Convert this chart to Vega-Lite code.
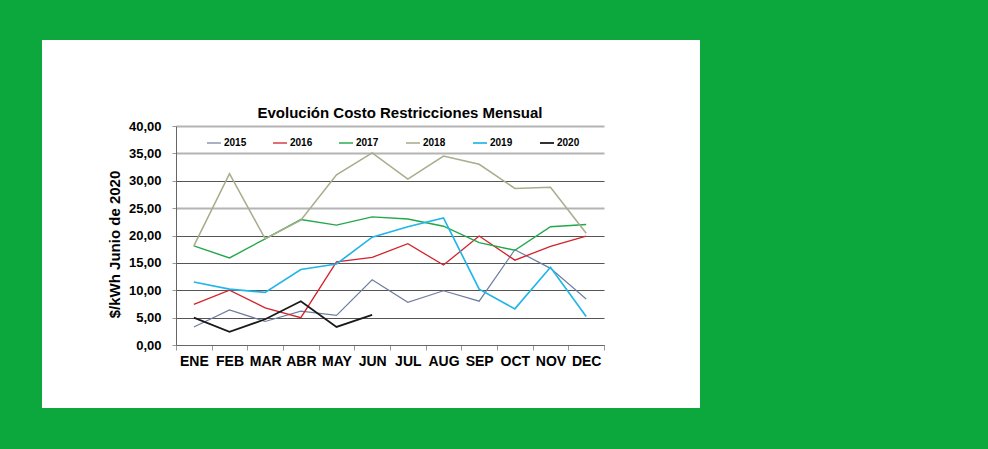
{
  "$schema": "https://vega.github.io/schema/vega-lite/v6.json",
  "autosize": "none",
  "width": 658,
  "height": 368,
  "padding": {"left": 42, "top": 40, "right": 288, "bottom": 41},
  "background": "#0ca73d",
  "config": {
    "view": {"fill": "white", "stroke": null},
    "font": "Liberation Sans"
  },
  "title": {
    "text": "Evolución Costo Restricciones Mensual",
    "font": "Liberation Sans",
    "fontSize": 15,
    "fontWeight": "bold",
    "color": "#000000",
    "anchor": "middle",
    "frame": "group",
    "offset": 0,
    "baseline": "middle",
    "dx": 29,
    "dy": 88
  },
  "data": {
    "values": [
      {"month": "ENE", "year": "2015", "value": 3.3},
      {"month": "FEB", "year": "2015", "value": 6.4},
      {"month": "MAR", "year": "2015", "value": 4.3},
      {"month": "ABR", "year": "2015", "value": 6.2},
      {"month": "MAY", "year": "2015", "value": 5.4},
      {"month": "JUN", "year": "2015", "value": 11.9},
      {"month": "JUL", "year": "2015", "value": 7.8},
      {"month": "AUG", "year": "2015", "value": 9.9},
      {"month": "SEP", "year": "2015", "value": 8.0},
      {"month": "OCT", "year": "2015", "value": 17.4},
      {"month": "NOV", "year": "2015", "value": 14.0},
      {"month": "DEC", "year": "2015", "value": 8.4},
      {"month": "ENE", "year": "2016", "value": 7.4},
      {"month": "FEB", "year": "2016", "value": 10.0},
      {"month": "MAR", "year": "2016", "value": 6.8},
      {"month": "ABR", "year": "2016", "value": 5.0},
      {"month": "MAY", "year": "2016", "value": 15.2},
      {"month": "JUN", "year": "2016", "value": 16.0},
      {"month": "JUL", "year": "2016", "value": 18.5},
      {"month": "AUG", "year": "2016", "value": 14.6},
      {"month": "SEP", "year": "2016", "value": 19.9},
      {"month": "OCT", "year": "2016", "value": 15.5},
      {"month": "NOV", "year": "2016", "value": 18.0},
      {"month": "DEC", "year": "2016", "value": 19.9},
      {"month": "ENE", "year": "2017", "value": 18.1},
      {"month": "FEB", "year": "2017", "value": 15.9},
      {"month": "MAR", "year": "2017", "value": 19.4},
      {"month": "ABR", "year": "2017", "value": 22.9},
      {"month": "MAY", "year": "2017", "value": 21.9},
      {"month": "JUN", "year": "2017", "value": 23.4},
      {"month": "JUL", "year": "2017", "value": 23.0},
      {"month": "AUG", "year": "2017", "value": 21.7},
      {"month": "SEP", "year": "2017", "value": 18.7},
      {"month": "OCT", "year": "2017", "value": 17.3},
      {"month": "NOV", "year": "2017", "value": 21.6},
      {"month": "DEC", "year": "2017", "value": 22.0},
      {"month": "ENE", "year": "2018", "value": 18.1},
      {"month": "FEB", "year": "2018", "value": 31.3},
      {"month": "MAR", "year": "2018", "value": 19.4},
      {"month": "ABR", "year": "2018", "value": 22.8},
      {"month": "MAY", "year": "2018", "value": 31.1},
      {"month": "JUN", "year": "2018", "value": 35.1},
      {"month": "JUL", "year": "2018", "value": 30.3},
      {"month": "AUG", "year": "2018", "value": 34.5},
      {"month": "SEP", "year": "2018", "value": 33.0},
      {"month": "OCT", "year": "2018", "value": 28.6},
      {"month": "NOV", "year": "2018", "value": 28.8},
      {"month": "DEC", "year": "2018", "value": 20.4},
      {"month": "ENE", "year": "2019", "value": 11.5},
      {"month": "FEB", "year": "2019", "value": 10.2},
      {"month": "MAR", "year": "2019", "value": 9.6},
      {"month": "ABR", "year": "2019", "value": 13.8},
      {"month": "MAY", "year": "2019", "value": 14.8},
      {"month": "JUN", "year": "2019", "value": 19.7},
      {"month": "JUL", "year": "2019", "value": 21.6},
      {"month": "AUG", "year": "2019", "value": 23.2},
      {"month": "SEP", "year": "2019", "value": 10.2},
      {"month": "OCT", "year": "2019", "value": 6.6},
      {"month": "NOV", "year": "2019", "value": 14.2},
      {"month": "DEC", "year": "2019", "value": 5.2},
      {"month": "ENE", "year": "2020", "value": 5.0},
      {"month": "FEB", "year": "2020", "value": 2.4},
      {"month": "MAR", "year": "2020", "value": 4.7},
      {"month": "ABR", "year": "2020", "value": 8.0},
      {"month": "MAY", "year": "2020", "value": 3.3},
      {"month": "JUN", "year": "2020", "value": 5.5}
    ]
  },
  "mark": {"type": "line", "strokeJoin": "miter"},
  "encoding": {
    "x": {
      "field": "month",
      "type": "ordinal",
      "sort": ["ENE", "FEB", "MAR", "ABR", "MAY", "JUN", "JUL", "AUG", "SEP", "OCT", "NOV", "DEC"],
      "bandPosition": 0.5,
      "scale": {"type": "band", "range": [134, 562], "paddingInner": 0, "paddingOuter": 0},
      "axis": {
        "title": null,
        "orient": "bottom",
        "offset": -63,
        "labelAngle": 0,
        "labelFont": "Liberation Sans",
        "labelFontSize": 14,
        "labelFontWeight": "bold",
        "labelColor": "#000000",
        "labelPadding": 4,
        "domainColor": "#666666",
        "domainWidth": 1,
        "tickColor": "#999999",
        "tickSize": 5,
        "tickBand": "extent",
        "grid": false
      }
    },
    "y": {
      "field": "value",
      "type": "quantitative",
      "scale": {"domain": [0, 40], "range": [305, 86], "nice": false},
      "axis": {
        "title": "$/kWh Junio de 2020",
        "titleFont": "Liberation Sans",
        "titleFontSize": 15,
        "titleFontWeight": "bold",
        "titleColor": "#000000",
        "titlePadding": 6,
        "titleY": 204,
        "offset": -134,
        "values": [0, 5, 10, 15, 20, 25, 30, 35, 40],
        "labelExpr": "replace(format(datum.value, '.2f'), '.', ',')",
        "labelFont": "Liberation Sans",
        "labelFontSize": 13,
        "labelFontWeight": "bold",
        "labelColor": "#000000",
        "labelPadding": 11,
        "domainColor": "#666666",
        "tickColor": "#999999",
        "tickSize": 4,
        "grid": true,
        "gridColor": {"condition": {"test": "datum.value == 40 || datum.value == 35 || datum.value == 25", "value": "#b4b4b4"}, "value": "#555555"},
        "gridWidth": {"condition": {"test": "datum.value == 40 || datum.value == 35 || datum.value == 25", "value": 2}, "value": 1}
      }
    },
    "color": {
      "field": "year",
      "type": "nominal",
      "scale": {
        "domain": ["2015", "2016", "2017", "2018", "2019", "2020"],
        "range": ["#6f7ea0", "#d4232b", "#22a84b", "#a6ae8c", "#22b5e8", "#1a1a1a"]
      },
      "legend": {
        "title": null,
        "orient": "none",
        "direction": "horizontal",
        "legendX": 164,
        "legendY": 95,
        "padding": 0,
        "symbolType": "stroke",
        "symbolSize": 196,
        "symbolStrokeWidth": 2,
        "labelFont": "Liberation Sans",
        "labelFontSize": 10,
        "labelFontWeight": "bold",
        "labelColor": "#000000",
        "labelOffset": 2,
        "columnPadding": 23
      }
    },
    "strokeWidth": {
      "field": "year",
      "type": "nominal",
      "scale": {"domain": ["2015", "2016", "2017", "2018", "2019", "2020"], "range": [1.2, 1.8, 1.8, 1.1, 1.8, 1.8]},
      "legend": null
    }
  }
}
